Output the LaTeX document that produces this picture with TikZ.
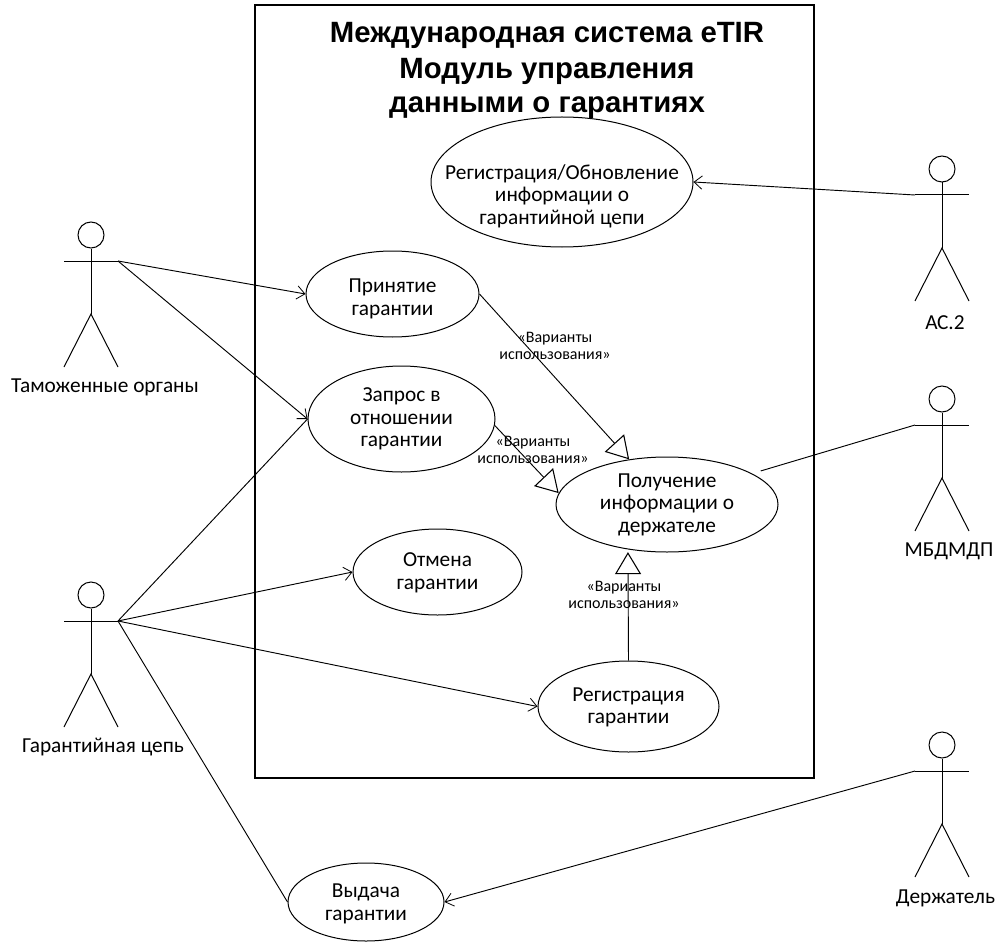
\documentclass[tikz,border=0pt]{standalone}
\usepackage{fontspec}
\setmainfont{Carlito}
\newfontfamily\titlefont{Liberation Sans}
\usetikzlibrary{arrows.meta,shapes.geometric}
\tikzset{
  x=0.75pt,y=-0.75pt,
  line/.style={draw=black,line width=0.75pt},
  usecase/.style={draw=black,line width=0.75pt,ellipse,inner sep=0pt},
  casetext/.style={align=center,inner sep=0pt,font=\fontsize{16}{16.9}\selectfont},
  openarrow/.style={-{Straight Barb[length=6pt,width=10pt,line width=0.6pt]}},
  conn/.style={draw=black,line width=0.7pt},
  genarrow/.style={conn,-{Triangle[open,length=16.5pt,width=19.5pt,line width=0.8pt,fill=white]}},
  stereo/.style={font=\fontsize{12}{12.4}\selectfont,align=center,inner sep=0pt},
  actorlabel/.style={font=\fontsize{16}{18}\selectfont,inner sep=0pt},
  actorhead/.style={circle,draw=black,line width=0.75pt,minimum size=19.5pt,inner sep=0pt},
  pics/actor/.style={code={
    \node[actorhead] (-head) at (0,-26) {};
    \draw[line] (-head.south) -- (0,53);
    \draw[line] (-27,0) -- (27,0);
    \draw[line] (-27,106) -- (0,53) -- (27,106);
    \coordinate (-l) at (-27,0);
    \coordinate (-r) at (27,0);
  }}
}
\begin{document}
\begin{tikzpicture}
\useasboundingbox (0,0) rectangle (998,941);
\node[draw=black,line width=1.1pt,minimum width=419.25pt,minimum height=579.75pt,inner sep=0pt] (box) at (534.5,391.5) {};
\node[font=\titlefont\bfseries\fontsize{22}{25.5}\selectfont,align=center,inner sep=0pt] (title) at (547,70) {Международная система eTIR\\[1.5pt]Модуль управления\\данными о гарантиях};

\node[usecase,minimum width=196.5pt,minimum height=97.5pt] (reg) at (562,182) {};
\node[usecase,minimum width=129.75pt,minimum height=64.5pt] (acc) at (392.5,294) {};
\node[usecase,minimum width=140.25pt,minimum height=79.5pt] (req) at (401.5,419) {};
\node[usecase,minimum width=166.5pt,minimum height=71.25pt] (info) at (667,504.5) {};
\node[usecase,minimum width=126.75pt,minimum height=64.5pt] (can) at (437.5,572) {};
\node[usecase,minimum width=135.75pt,minimum height=68.25pt] (rgs) at (628.5,706.5) {};
\node[usecase,minimum width=117pt,minimum height=58.5pt] (iss) at (366,902) {};

\node[casetext] (treg) at ([yshift=-10.5pt]reg.center) {Регистрация/Обновление\\информации о\\гарантийной цепи};
\node[casetext] (tacc) at ([yshift=-3.75pt]acc.center) {Принятие\\гарантии};
\node[casetext] (treq) at (req.center) {Запрос в\\отношении\\гарантии};
\node[casetext] (tinfo) at (info.center) {Получение\\информации о\\держателе};
\node[casetext] (tcan) at ([yshift=-0.75pt]can.center) {Отмена\\гарантии};
\node[casetext] (trgs) at ([yshift=-0.75pt]rgs.center) {Регистрация\\гарантии};
\node[casetext] (tiss) at ([yshift=-1.5pt]iss.center) {Выдача\\гарантии};

\pic (customs) at (91,261) {actor};
\pic (chain) at (91,621) {actor};
\pic (as) at (942,195) {actor};
\pic (tir) at (942,425) {actor};
\pic (holder) at (942,771) {actor};

\node[actorlabel] (lcustoms) at (105,387) {Таможенные органы};
\node[actorlabel] (lchain) at (103,747) {Гарантийная цепь};
\node[actorlabel] (las) at (945,323) {АС.2};
\node[actorlabel] (ltir) at (949,551) {МБДМДП};
\node[actorlabel] (lholder) at (945.5,898) {Держатель};

\draw[conn,openarrow] (customs-r) -- (acc.west);
\draw[conn,openarrow] (customs-r) -- (req.west);
\draw[conn] (chain-r) -- (req.west);
\draw[conn,openarrow] (chain-r) -- (can.west);
\draw[conn,openarrow] (chain-r) -- (rgs.west);
\draw[conn] (chain-r) -- (iss.west);
\draw[conn,openarrow] (as-l) -- (reg.east);
\draw[conn,shorten >=6.75pt] (tir-l) -- (info.20);
\draw[conn,openarrow] (holder-l) -- (iss.east);

\draw[genarrow] (acc.east) -- (info.130);
\draw[genarrow] (req.-4) -- (info.174);
\draw[genarrow,shorten >=2pt] (rgs.north) -- (info.229);

\node[stereo] (s1) at (555,346) {«Варианты\\использования»};
\node[stereo] (s2) at (533,450) {«Варианты\\использования»};
\node[stereo] (s3) at (624,595) {«Варианты\\использования»};
\end{tikzpicture}
\end{document}
